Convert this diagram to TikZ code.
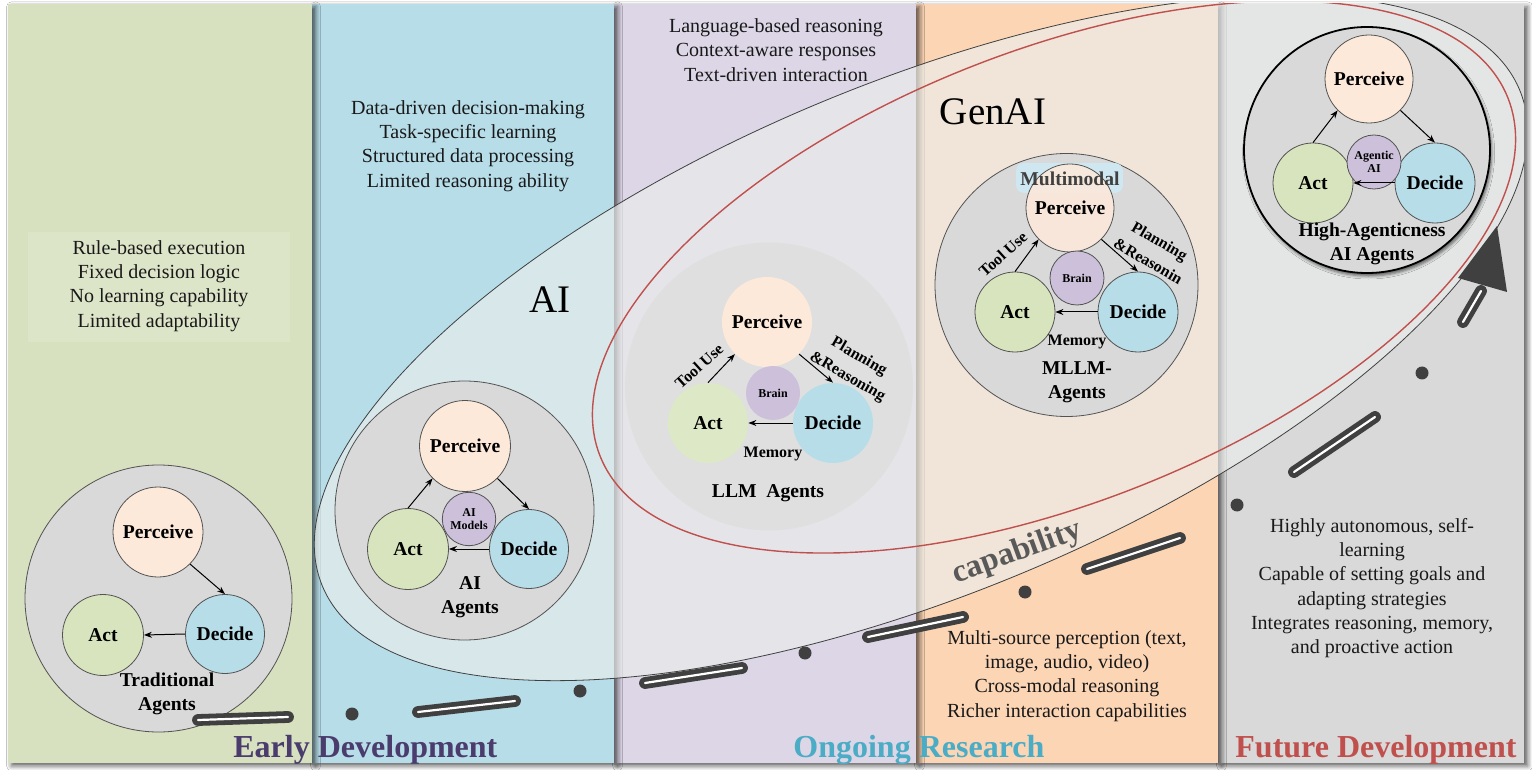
\documentclass[tikz,border=0pt]{standalone}
\usepackage{fontspec}
\setmainfont{Liberation Serif}
\usetikzlibrary{arrows.meta,shadows.blur}
\definecolor{pgreen}{HTML}{D7E0BF}
\definecolor{boxgreen}{HTML}{DDE5C9}
\definecolor{pblue}{HTML}{B7DDE8}
\definecolor{plav}{HTML}{DCD6E6}
\definecolor{ppeach}{HTML}{FCD5B5}
\definecolor{pgray}{HTML}{D9D9D9}
\definecolor{cperc}{HTML}{FDE9D9}
\definecolor{cact}{HTML}{D7E4BD}
\definecolor{cdec}{HTML}{B7DDE8}
\definecolor{cbrain}{HTML}{CCC0DA}
\definecolor{agray}{HTML}{D9D9D9}
\definecolor{dk}{HTML}{404040}
\definecolor{mmblue}{HTML}{CFE7F0}
\definecolor{veil}{HTML}{EBEEEC}
\definecolor{titlepurple}{HTML}{4B3C6E}
\definecolor{titleteal}{HTML}{4BACC6}
\definecolor{titlered}{HTML}{C0504D}
\definecolor{redline}{HTML}{C0504D}
\definecolor{capgray}{HTML}{595959}
\newcommand{\lblfont}{\fontsize{9.8}{12}\selectfont\bfseries}
\newcommand{\descfont}{\fontsize{10}{12.1}\selectfont}
\newcommand{\tinyfont}{\fontsize{6}{6.6}\selectfont\bfseries}
\newcommand{\sidefont}{\fontsize{8}{11.5}\selectfont\bfseries}
\newcommand{\titlefont}{\fontsize{16}{18}\selectfont\bfseries}
\newcommand{\bigfont}{\fontsize{19.5}{22}\selectfont}
\begin{document}
\begin{tikzpicture}[x=0.5pt,y=-0.5pt,
  bigc/.style={circle, fill=agray, draw=dk!90, line width=0.4pt, minimum size=#1pt, inner sep=0pt},
  percc/.style={circle, fill=cperc, draw=dk!90, line width=0.4pt, minimum size=#1pt, inner sep=0pt, font=\lblfont},
  actc/.style={circle, fill=cact, draw=dk!90, line width=0.4pt, minimum size=#1pt, inner sep=0pt, font=\lblfont},
  decc/.style={circle, fill=cdec, draw=dk!90, line width=0.4pt, minimum size=#1pt, inner sep=0pt, font=\lblfont},
  brainc/.style={circle, fill=cbrain, draw=dk!90, line width=0.4pt, minimum size=#1pt, inner sep=0pt, font=\tinyfont, align=center},
  nostroke/.style={draw=none},
  arr/.style={-{Stealth[length=4pt,width=3pt]}, line width=0.5pt, black},
  desc/.style={align=center, font=\descfont, text=black!90, inner sep=0pt},
  lbl/.style={font=\lblfont, align=center, inner sep=0pt},
  sidelbl/.style={font=\sidefont, align=center, inner sep=0pt},
  titlelbl/.style={font=\titlefont, anchor=base west, inner sep=0pt},
  dashseg/.style={draw=dk, double=white, double distance=1.1pt, line width=2.4pt, line cap=round},
  panelshadow/.style={blur shadow={shadow xshift=1.8pt, shadow yshift=-1.4pt, shadow blur radius=2.5pt, shadow opacity=65}}
]
\useasboundingbox (0,0) rectangle (1532,770);
\fill[white] (0,0) rectangle (1532,770);
% panels, right to left so each shadow falls on its right neighbour
\path[fill=pgray, panelshadow] (1218,4) rectangle (1524,763);
\path[fill=ppeach, panelshadow] (916,4) rectangle (1218,763);
\path[fill=plav, panelshadow] (614,4) rectangle (916,763);
\path[fill=pblue, panelshadow] (312,4) rectangle (614,763);
\path[fill=pgreen, panelshadow] (8,4) rectangle (312,763);
% panel 1 text box
\node[fill=boxgreen, minimum width=131pt, minimum height=55pt, inner sep=0pt] (box1) at (159,287) {};
% ellipses
\begin{scope}
\clip (8,4) rectangle (1524,763);
\path[rotate around={22.5:(921,338)}, fill=veil, fill opacity=0.65, draw=dk, line width=0.4pt]
  (921,338) ellipse [x radius=648, y radius=256];
\path[rotate around={21.5:(1054,277)}, draw=redline, line width=0.7pt]
  (1054,277) ellipse [x radius=488, y radius=226];
\end{scope}
% texts in panels
\node[desc] (d1) at (159,286) {Rule-based execution\\Fixed decision logic\\No learning capability\\Limited adaptability};
\node[desc] (d2) at (468,146) {Data-driven decision-making\\Task-specific learning\\Structured data processing\\Limited reasoning ability};
\node[desc] (d3) at (776,50) {Language-based reasoning\\Context-aware responses\\Text-driven interaction};
\node[desc] (d4) at (1067,676) {Multi-source perception (text,\\image, audio, video)\\Cross-modal reasoning\\Richer interaction capabilities};
\node[desc] (d5) at (1372,588) {Highly autonomous, self-\\learning\\Capable of setting goals and\\adapting strategies\\Integrates reasoning, memory,\\and proactive action};
\node[font=\bigfont, inner sep=0pt] (ai) at (550,300) {AI};
\node[font=\bigfont, inner sep=0pt] (genai) at (993,112) {GenAI};
\node[font=\fontsize{16}{18}\selectfont\bfseries, text=capgray, rotate=20, inner sep=0pt] (cap) at (1017,553) {capability};
% ---- Traditional agents
\node[bigc=133.5] (g1) at (158.5,598.5) {};
\node[percc=45] (p1) at (158,532) {Perceive};
\node[actc=40.5] (a1) at (103,635) {Act};
\node[decc=39.5] (c1) at (225,634) {Decide};
\draw[arr] (p1.-45) -- (c1.north);
\draw[arr] (c1.west) -- (a1.east);
\node[lbl] (l1) at (167,694) {Traditional\\Agents};
% ---- AI agents
\node[bigc=129.5] (g2) at (464.5,510.5) {};
\node[percc=45.5] (p2) at (465,446) {Perceive};
\node[actc=40.5] (a2) at (408,549) {Act};
\node[decc=39.5] (c2) at (529,549) {Decide};
\node[brainc=26.7] (b2) at (469,519) {AI\\Models};
\draw[arr] (a2.north) -- (p2.-135);
\draw[arr] (p2.-45) -- (c2.north);
\draw[arr] (c2.west) -- (a2.east);
\node[lbl] (l2) at (470,597) {AI\\Agents};
% ---- LLM agents
\node[bigc=144, nostroke, fill=agray!85!white] (g3) at (769,386.5) {};
\node[percc=45, nostroke] (p3) at (767,322) {Perceive};
\node[actc=40, nostroke, fill=cact!85!white] (a3) at (708,423) {Act};
\node[decc=40, nostroke] (c3) at (833,423) {Decide};
\node[brainc=27, nostroke] (b3) at (773,393) {Brain};
\draw[arr] (a3.north) -- (p3.-135);
\draw[arr] (p3.-45) -- (c3.north);
\draw[arr] (c3.west) -- (a3.east);
\node[sidelbl, rotate=42] (tu3) at (699,366) {Tool Use};
\node[sidelbl, rotate=-30] (pr3) at (853,367) {Planning\\\&Reasoning};
\node[sidelbl] (m3) at (773,454) {Memory};
\node[lbl] (l3) at (768,493) {LLM\ \ Agents};
% ---- MLLM agents
\node[bigc=131.5] (g4) at (1066.5,285) {};
\node[fill=mmblue, rounded corners=4pt, minimum width=53.5pt, minimum height=15pt, inner sep=0pt] (mm4) at (1069.5,178) {};
\node[percc=44, fill opacity=0.85, text opacity=1] (p4) at (1070,208) {Perceive};
\node[lbl, text=dk] (mmt4) at (1070,179) {Multimodal};
\node[actc=40] (a4) at (1015,312) {Act};
\node[decc=40] (c4) at (1138,312) {Decide};
\node[brainc=27] (b4) at (1077,278) {Brain};
\draw[arr] (a4.north) -- (p4.-135);
\draw[arr] (p4.-45) -- (c4.north);
\draw[arr] (c4.west) -- (a4.east);
\node[sidelbl, rotate=42] (tu4) at (1003,254) {Tool Use};
\node[sidelbl, rotate=-30] (pr4) at (1154,251) {Planning\\\&Reasonin};
\node[sidelbl] (m4) at (1077,342) {Memory};
\node[lbl] (l4) at (1077,382) {MLLM-\\Agents};
% ---- High-agenticness agents
\node[bigc=123, draw=black, line width=0.9pt, blur shadow={shadow xshift=0.8pt, shadow yshift=-1.5pt, shadow blur radius=1.5pt, shadow opacity=60}] (g5) at (1367,150) {};
\node[percc=44] (p5) at (1369,79) {Perceive};
\node[actc=40] (a5) at (1313,183) {Act};
\node[decc=40] (c5) at (1435,183) {Decide};
\node[brainc=27] (b5) at (1374,162) {Agentic\\AI};
\draw[arr] (a5.north) -- (p5.-135);
\draw[arr] (p5.-45) -- (c5.north);
\draw[arr] (c5.west) -- (a5.east);
\node[lbl] (l5) at (1372,244) {High-Agenticness\\AI Agents};
% ---- dashed capability arrow
\coordinate (s1a) at (198,720); \coordinate (s1b) at (288,717);
\coordinate (s2a) at (418,712); \coordinate (s2b) at (515,701);
\coordinate (s3a) at (645,683); \coordinate (s3b) at (742,668);
\coordinate (s4a) at (868,637); \coordinate (s4b) at (963,617);
\coordinate (s5a) at (1087,569); \coordinate (s5b) at (1180,538);
\coordinate (s6a) at (1294,472); \coordinate (s6b) at (1375,417);
\coordinate (s7a) at (1463,322); \coordinate (s7b) at (1481,291);
\draw[dashseg] (s1a) -- (s1b);
\draw[dashseg] (s2a) -- (s2b);
\draw[dashseg] (s3a) -- (s3b);
\draw[dashseg] (s4a) -- (s4b);
\draw[dashseg] (s5a) -- (s5b);
\draw[dashseg] (s6a) -- (s6b);
\draw[dashseg] (s7a) -- (s7b);
\fill[dk] (352,714) circle[radius=6.5];
\fill[dk] (580,691) circle[radius=6.5];
\fill[dk] (805,653) circle[radius=6.5];
\fill[dk] (1025,592) circle[radius=6.5];
\fill[dk] (1237,505) circle[radius=6.5];
\fill[dk] (1422,373) circle[radius=6.5];
\fill[dk] (1458,278) -- (1497,226) -- (1507,292) -- cycle;
% ---- stage titles
\node[titlelbl, text=titlepurple] (tt1) at (233,757) {Early Development};
\node[titlelbl, text=titleteal] (tt2) at (793,757) {Ongoing Research};
\node[titlelbl, text=titlered] (tt3) at (1235,757) {Future Development};
\end{tikzpicture}
\end{document}
